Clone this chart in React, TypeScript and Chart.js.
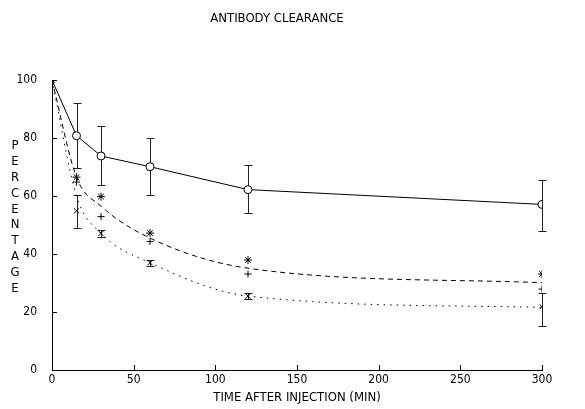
import { useEffect, useRef } from 'react';
import { Chart, registerables } from 'chart.js';

Chart.register(...registerables);

const times = [0, 15, 30, 60, 120, 300];
const xTicks = [0, 50, 100, 150, 200, 250, 300];
const yTicks = [0, 20, 40, 60, 80, 100];

const circleMean = [100, 80.8, 73.8, 70.1, 62.2, 57.1];
const circleHigh = [null, 92, 84.2, 80, 70.7, 65.5];
const circleLow = [null, 69.5, 63.8, 60.3, 54, 48];

const dashedFit = [100, 66.5, 56.5, 45.5, 35.1, 30.1];
const starMean = [100, 66.5, 59.8, 47.2, 37.9, 33.1];
const plusMean = [100, 64.8, 52.9, 44.3, 33.1, 27.9];

const dottedFit = [100, 60, 47.1, 37, 25.5, 21.6];
const crossMean = [null, 54.9, 47.1, 37, 25.5, 21.8];
const crossHigh = [null, 60.3, 48.2, 38, 26.5, 26.7];
const crossLow = [null, 48.9, 46, 36, 24.5, 15.2];

const titleText = 'ANTIBODY CLEARANCE';
const xTitle = 'TIME AFTER INJECTION (MIN)';
const yTitle = 'PERCENTAGE';

const FONT = "'Liberation Sans Narrow', 'DejaVu Sans Condensed', 'DejaVu Sans', sans-serif";

const pts = (vals: (number | null)[]) => times.map((t, i) => ({ x: t, y: vals[i] }));

const errorBarPlugin = {
  id: 'errorBars',
  beforeDatasetsDraw(chart: any) {
    const { ctx, scales } = chart;
    const xs = scales.x;
    const ys = scales.y;
    ctx.save();
    ctx.strokeStyle = '#222';
    ctx.lineWidth = 1;
    const sets: [(number | null)[], (number | null)[]][] = [
      [circleHigh, circleLow],
      [crossHigh, crossLow],
    ];
    sets.forEach(([hi, lo]) => {
      times.forEach((t, i) => {
        const h = hi[i];
        const l = lo[i];
        if (h == null || l == null) return;
        const px = Math.round(xs.getPixelForValue(t)) + 0.5;
        const top = Math.round(ys.getPixelForValue(h)) + 0.5;
        const bot = Math.round(ys.getPixelForValue(l)) + 0.5;
        ctx.beginPath();
        ctx.moveTo(px, top);
        ctx.lineTo(px, bot);
        ctx.moveTo(px - 4, top);
        ctx.lineTo(px + 4, top);
        ctx.moveTo(px - 4, bot);
        ctx.lineTo(px + 4, bot);
        ctx.stroke();
      });
    });
    ctx.restore();
  },
};

const axisDecorPlugin = {
  id: 'axisDecor',
  afterDraw(chart: any) {
    const { ctx, scales, chartArea } = chart;
    const xs = scales.x;
    const ys = scales.y;
    ctx.save();
    ctx.strokeStyle = '#000';
    ctx.lineWidth = 1;
    ctx.beginPath();
    yTicks.forEach((v) => {
      if (v === 0) return;
      const py = Math.round(ys.getPixelForValue(v)) + 0.5;
      ctx.moveTo(chartArea.left, py);
      ctx.lineTo(chartArea.left + 5, py);
    });
    xTicks.forEach((v) => {
      if (v === 0) return;
      const px = Math.round(xs.getPixelForValue(v)) + 0.5;
      ctx.moveTo(px, chartArea.bottom);
      ctx.lineTo(px, chartArea.bottom - 5);
    });
    ctx.stroke();
    // stacked vertical axis title
    ctx.fillStyle = '#000';
    ctx.font = `13px ${FONT}`;
    ctx.textAlign = 'center';
    ctx.textBaseline = 'middle';
    const letters = yTitle.split('');
    const spacing = 15.8;
    const startY = chartArea.top + 66;
    letters.forEach((ch, i) => {
      ctx.fillText(ch, 15, startY + i * spacing);
    });
    ctx.restore();
  },
};

export default function App() {
  const ref = useRef<HTMLCanvasElement>(null);
  useEffect(() => {
    const chart = new Chart(ref.current as HTMLCanvasElement, {
      type: 'scatter',
      data: {
        datasets: [
          {
            label: 'solid',
            data: pts(circleMean),
            showLine: true,
            borderColor: '#000',
            borderWidth: 1,
            tension: 0,
            pointStyle: 'circle',
            pointRadius: (c: any) => (c.dataIndex === 0 ? 0 : 4),
            pointBackgroundColor: '#fff',
            pointBorderColor: '#000',
            pointBorderWidth: 1,
          },
          {
            label: 'dashed',
            data: pts(dashedFit),
            showLine: true,
            borderColor: '#000',
            borderWidth: 1,
            borderDash: [5, 4],
            cubicInterpolationMode: 'monotone',
            pointRadius: 0,
          },
          {
            label: 'dotted',
            data: pts(dottedFit),
            showLine: true,
            borderColor: '#000',
            borderWidth: 1,
            borderDash: [1.5, 5],
            cubicInterpolationMode: 'monotone',
            pointRadius: 0,
          },
          {
            label: 'star',
            data: pts(starMean),
            showLine: false,
            pointStyle: 'star',
            pointRadius: 4,
            pointBorderColor: '#000',
            pointBorderWidth: 1,
          },
          {
            label: 'plus',
            data: pts(plusMean),
            showLine: false,
            pointStyle: 'cross',
            pointRadius: 3.5,
            pointBorderColor: '#000',
            pointBorderWidth: 1,
          },
          {
            label: 'cross',
            data: pts(crossMean),
            showLine: false,
            pointStyle: 'crossRot',
            pointRadius: 3.5,
            pointBorderColor: '#000',
            pointBorderWidth: 1,
          },
        ],
      },
      options: {
        responsive: false,
        animation: false,
        events: [],
        layout: { padding: { left: 12, right: 43, top: 0, bottom: 0 } },
        plugins: {
          legend: { display: false },
          tooltip: { enabled: false },
          title: {
            display: true,
            text: titleText,
            color: '#000',
            font: { family: FONT, size: 13, weight: 'normal' },
            padding: { top: 11, bottom: 53.4 },
          },
        },
        elements: { line: { fill: false } },
        scales: {
          x: {
            type: 'linear',
            min: 0,
            max: 300,
            afterFit: (s: any) => {
              s.height = 39;
            },
            afterBuildTicks: (s: any) => {
              s.ticks = xTicks.map((v) => ({ value: v }));
            },
            grid: { display: false, drawTicks: false },
            border: { display: true, color: '#000', width: 1 },
            ticks: {
              color: '#000',
              padding: 3,
              maxRotation: 0,
              font: { family: FONT, size: 12 },
            },
            title: {
              display: true,
              text: xTitle,
              color: '#000',
              font: { family: FONT, size: 13 },
              padding: { top: 0, bottom: 4 },
            },
          },
          y: {
            type: 'linear',
            min: 0,
            max: 100,
            afterFit: (s: any) => {
              s.width = 40;
            },
            afterBuildTicks: (s: any) => {
              s.ticks = yTicks.map((v) => ({ value: v }));
            },
            grid: { display: false, drawTicks: false },
            border: { display: true, color: '#000', width: 1 },
            ticks: {
              color: '#000',
              padding: 15,
              font: { family: FONT, size: 12 },
            },
          },
        },
      },
      plugins: [errorBarPlugin, axisDecorPlugin],
    } as any);
    return () => chart.destroy();
  }, []);
  return (
    <div style={{ position: 'absolute', left: 0, top: 0, width: 585, height: 409, background: '#fff' }}>
      <canvas ref={ref} width={585} height={409} />
    </div>
  );
}
